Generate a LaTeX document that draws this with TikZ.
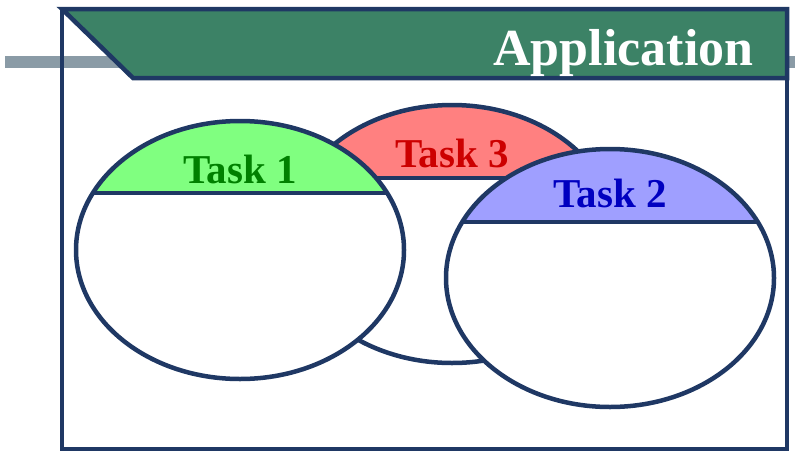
\documentclass[tikz,border=0pt]{standalone}
\usepackage{fontspec}
\setmainfont{Liberation Serif}
\usetikzlibrary{shapes.geometric}

\definecolor{framec}{HTML}{1F3864}
\definecolor{barc}{HTML}{3C8266}
\definecolor{rulec}{HTML}{8A9BA6}
\definecolor{capgreen}{HTML}{80FF80}
\definecolor{capred}{HTML}{FF8080}
\definecolor{capblue}{HTML}{9F9FFF}
\definecolor{txtgreen}{HTML}{008000}
\definecolor{txtred}{HTML}{CC0000}
\definecolor{txtblue}{HTML}{0000C0}

\begin{document}
\begin{tikzpicture}[x=1pt,y=-1pt,
    oval/.style={ellipse,fill=white,inner sep=0pt,minimum width=328pt,minimum height=258pt},
    tasklabel/.style={anchor=base,font=\fontsize{41}{48}\selectfont\bfseries}]
\useasboundingbox (0,0) rectangle (795,453);
% grey rule running behind the window
\draw [line width=12pt, rulec] (5,62) -- (795,62);
% title bar and window frame
\filldraw [line width=4.5pt, draw=framec, fill=barc] (62,9) -- (133,78) -- (787,78) -- (787,9) -- cycle;
\draw [line width=4.5pt, framec] (62,9) rectangle (787,449);
\node [anchor=base east, text=white, font=\fontsize{52}{60}\selectfont\bfseries] (title) at (757,65) {Application};
% tasks: name/x/y/chord/fill/text/label/baseline
\foreach \n/\x/\y/\cy/\fc/\tc/\lab/\by in {%
    3/452/234/178/capred/txtred/Task 3/167,
    1/240/250/193/capgreen/txtgreen/Task 1/183,
    2/610/278/222/capblue/txtblue/Task 2/207} {%
    \node [oval] (t\n) at (\x,\y) {};
    \begin{scope}
        \clip (t\n.center) ellipse [x radius=164pt, y radius=129pt];
        \fill [\fc] ({\x-170},{\y-140}) rectangle ({\x+170},\cy);
        \draw [line width=4.5pt, framec] ({\x-170},\cy) -- ({\x+170},\cy);
    \end{scope}
    \draw [line width=4.5pt, framec] (t\n.center) ellipse [x radius=164pt, y radius=129pt];
    \node [tasklabel, text=\tc] (l\n) at (\x,\by) {\lab};
}
\end{tikzpicture}
\end{document}
